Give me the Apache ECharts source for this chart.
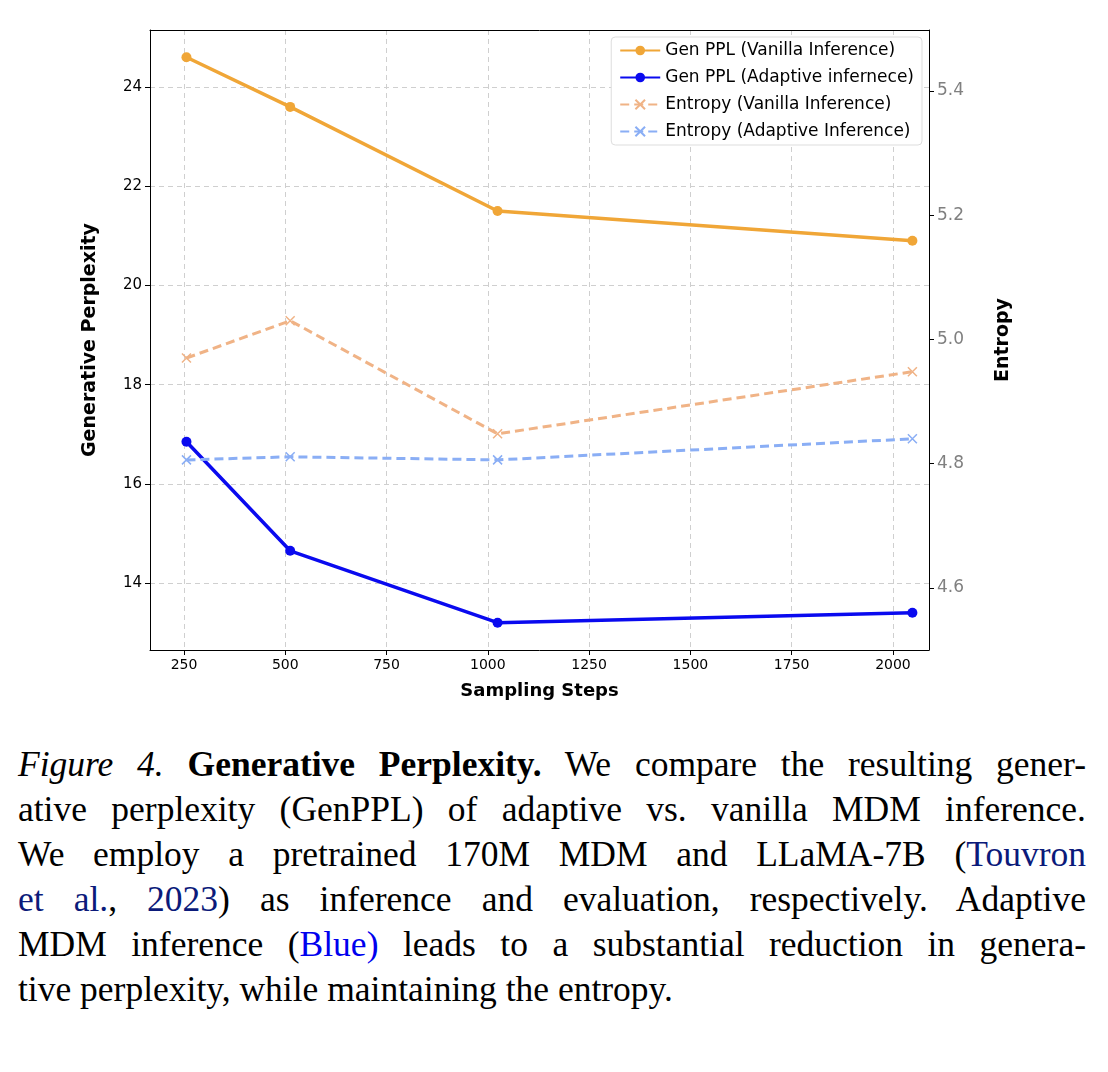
<!DOCTYPE html>
<html><head><meta charset="utf-8">
<script src="https://cdn.jsdelivr.net/npm/echarts@6/dist/echarts.min.js"></script>
<style>
html,body{margin:0;padding:0;background:#fff;}
#chart{width:1108px;height:720px;}
#cap{width:1068px;margin:22px 0 0 18px;font-family:"Liberation Serif","DejaVu Serif",serif;font-size:35.5px;line-height:45px;color:#000;}
#cap div{text-align:justify;text-align-last:justify;white-space:nowrap;}
#cap div.last{text-align-last:left;}
#cap a{text-decoration:none;color:#0b1a7a;}
</style></head><body>
<div id="chart"></div>
<div id="cap">
<div><i>Figure 4.</i> <b>Generative Perplexity.</b> We compare the resulting gener-</div>
<div>ative perplexity (GenPPL) of adaptive vs. vanilla MDM inference.</div>
<div>We employ a pretrained 170M MDM and LLaMA-7B (<a>Touvron</a></div>
<div><a>et al.</a>, <a>2023</a>) as inference and evaluation, respectively. Adaptive</div>
<div>MDM inference (<span style="color:#0000ee">Blue)</span> leads to a substantial reduction in genera-</div>
<div class="last">tive perplexity, while maintaining the entropy.</div>
</div>
<script>
// sampling steps
const steps = [256, 512, 1024, 2048];
const xTicks = [250, 500, 750, 1000, 1250, 1500, 1750, 2000];
// generative perplexity
const pplVanilla = [24.6, 23.6, 21.5, 20.9];
const pplAdaptive = [16.85, 14.65, 13.2, 13.4];
const pplTicks = [14, 16, 18, 20, 22, 24];
// entropy
const entVanilla = [4.970, 5.030, 4.848, 4.948];
const entAdaptive = [4.806, 4.811, 4.806, 4.840];
const entTicks = [4.6, 4.8, 5.0, 5.2, 5.4];

const font = 'DejaVu Sans';
const pair = a => a.map((v, i) => [steps[i], v]);
const dashed = { lineStyle: { color: '#cfcfcf', type: [5, 4], width: 1 } };
const cross = 'path://M0,0L10,10M10,0L0,10';

const chart = echarts.init(document.getElementById('chart'));
chart.setOption({
  animation: false,
  textStyle: { fontFamily: font },
  grid: { left: 150, right: 179, top: 30, bottom: 70 },
  legend: {
    right: 186, top: 37, orient: 'vertical', itemGap: 10, itemWidth: 40, itemHeight: 12,
    backgroundColor: '#fff', borderColor: '#ddd', borderWidth: 1, borderRadius: 4, padding: [5, 8],
    textStyle: { fontSize: 17, color: '#000', fontFamily: font },
    data: ['Gen PPL (Vanilla Inference)', 'Gen PPL (Adaptive infernece)', 'Entropy (Vanilla Inference)', 'Entropy (Adaptive Inference)']
  },
  xAxis: [{
    type: 'value', min: 166, max: 2089,
    name: 'Sampling Steps', nameLocation: 'middle', nameGap: 32,
    nameTextStyle: { fontSize: 18, fontWeight: 'bold', color: '#000' },
    axisLine: { lineStyle: { color: '#000' } },
    axisLabel: { fontSize: 14, color: '#000', customValues: xTicks, formatter: v => String(v) },
    axisTick: { show: true, length: 5, customValues: xTicks },
    splitLine: { show: true, ...dashed, customValues: xTicks }
  }, {
    type: 'value', min: 166, max: 2089, position: 'top',
    axisLine: { show: true, lineStyle: { color: '#000' } },
    axisLabel: { show: false }, axisTick: { show: false }, splitLine: { show: false }
  }],
  yAxis: [{
    type: 'value', min: 12.65, max: 25.15,
    name: 'Generative Perplexity', nameLocation: 'middle', nameGap: 50, nameRotate: 90,
    nameTextStyle: { fontSize: 19, fontWeight: 'bold', color: '#000' },
    axisLine: { show: true, lineStyle: { color: '#000' } },
    axisLabel: { fontSize: 15, color: '#000', customValues: pplTicks },
    axisTick: { show: true, customValues: pplTicks },
    splitLine: { show: true, ...dashed }
  }, {
    type: 'value', min: 4.5, max: 5.498, position: 'right',
    name: 'Entropy', nameLocation: 'middle', nameGap: 65, nameRotate: 90,
    nameTextStyle: { fontSize: 19, fontWeight: 'bold', color: '#000' },
    axisLine: { show: true, lineStyle: { color: '#000' } },
    axisLabel: { fontSize: 17, color: '#808080', formatter: v => v.toFixed(1), customValues: entTicks },
    axisTick: { show: true, customValues: entTicks },
    splitLine: { show: false }
  }],
  series: [
    { name: 'Gen PPL (Vanilla Inference)', type: 'line', data: pair(pplVanilla), symbol: 'circle', symbolSize: 10,
      itemStyle: { color: '#f0a637' }, lineStyle: { width: 3.5, color: '#f0a637' } },
    { name: 'Gen PPL (Adaptive infernece)', type: 'line', data: pair(pplAdaptive), symbol: 'circle', symbolSize: 10,
      itemStyle: { color: '#0a0aef' }, lineStyle: { width: 3.5, color: '#0a0aef' } },
    { name: 'Entropy (Vanilla Inference)', type: 'line', yAxisIndex: 1, data: pair(entVanilla),
      symbol: cross, symbolSize: 9,
      itemStyle: { color: '#f0b386', borderColor: '#f0b386', borderWidth: 1.5 }, lineStyle: { width: 3, type: [9, 5], color: '#f0b386' } },
    { name: 'Entropy (Adaptive Inference)', type: 'line', yAxisIndex: 1, data: pair(entAdaptive),
      symbol: cross, symbolSize: 9,
      itemStyle: { color: '#8aaef5', borderColor: '#8aaef5', borderWidth: 1.5 }, lineStyle: { width: 3, type: [9, 5], color: '#8aaef5' } }
  ]
});
</script>
</body></html>
